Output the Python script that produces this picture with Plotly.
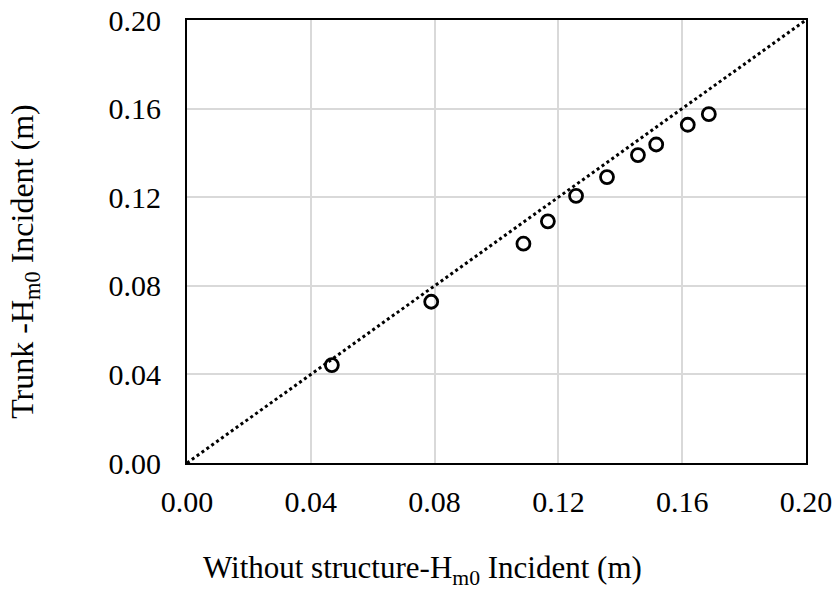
import plotly.graph_objects as go

# Significant wave height at the incident gauge (m)
hm0_without_structure = [0.0468, 0.0789, 0.1087, 0.1166, 0.1257, 0.1357, 0.1457, 0.1516, 0.1618, 0.1686]
hm0_trunk = [0.0442, 0.0728, 0.0990, 0.1091, 0.1206, 0.1291, 0.1390, 0.1438, 0.1527, 0.1575]

# 1:1 reference line
line_x = [0.0, 0.2]
line_y = [0.0, 0.2]

tick_vals = [0.00, 0.04, 0.08, 0.12, 0.16, 0.20]
tick_text = ["0.00", "0.04", "0.08", "0.12", "0.16", "0.20"]

x_title = "Without structure-H<sub>m0</sub> Incident (m)"
y_title = "Trunk -H<sub>m0</sub> Incident (m)"

serif = "Liberation Serif, Times New Roman, serif"

fig = go.Figure()
fig.add_trace(go.Scatter(
    x=line_x, y=line_y, mode="lines",
    line=dict(color="black", width=3, dash="dot"),
    hoverinfo="skip", showlegend=False,
))
fig.add_trace(go.Scatter(
    x=hm0_without_structure, y=hm0_trunk, mode="markers",
    marker=dict(symbol="circle-open", size=13, color="black", line=dict(width=2.8, color="black")),
    showlegend=False,
))

axis_common = dict(
    range=[0, 0.2],
    tickvals=tick_vals,
    ticktext=tick_text,
    showgrid=True,
    gridcolor="#d9d9d9",
    gridwidth=1.5,
    zeroline=False,
    showline=True,
    linecolor="black",
    linewidth=2,
    mirror=True,
    ticks="",
    automargin=False,
    tickfont=dict(family=serif, size=30, color="black"),
)

fig.update_xaxes(**axis_common, ticklabelstandoff=11)
fig.update_yaxes(**axis_common, ticklabelstandoff=18)

# Axis titles placed as annotations so they can sit off-centre
fig.add_annotation(
    text=x_title, xref="paper", yref="paper", x=0.381, y=-0.2415,
    xanchor="center", yanchor="middle", showarrow=False,
    font=dict(family=serif, size=31, color="black"),
)
fig.add_annotation(
    text=y_title, xref="paper", yref="paper", x=-0.262, y=0.456,
    xanchor="center", yanchor="middle", showarrow=False, textangle=-90,
    font=dict(family=serif, size=32, color="black"),
)

fig.update_layout(
    width=837, height=594,
    margin=dict(l=187, r=31, t=20, b=131, autoexpand=False),
    plot_bgcolor="white",
    paper_bgcolor="white",
)

fig.write_html("out.html")
